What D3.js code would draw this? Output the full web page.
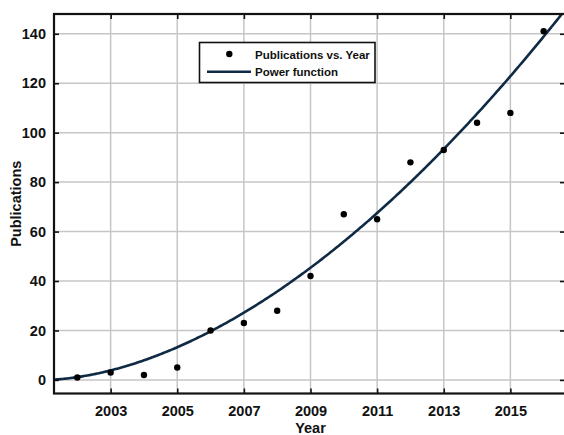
<!DOCTYPE html>
<html>
<head>
<meta charset="utf-8">
<script src="https://cdn.jsdelivr.net/npm/d3@7"></script>
<style>
  body { margin: 0; background: #fff; }
  svg { display: block; }
  text { font-family: "Liberation Sans", Arial, Helvetica, sans-serif; font-weight: bold; fill: #111; }
</style>
</head>
<body>
<svg id="chart" width="564" height="435"></svg>
<script>
// Yearly publication counts
const years = [2002, 2003, 2004, 2005, 2006, 2007, 2008, 2009, 2010, 2011, 2012, 2013, 2014, 2015, 2016];
const publications = [1, 3, 2, 5, 20, 23, 28, 42, 67, 65, 88, 93, 104, 108, 141];

// Axis ticks
const xTicks = [2003, 2005, 2007, 2009, 2011, 2013, 2015];
const yTicks = [0, 20, 40, 60, 80, 100, 120, 140];

// Legend entries
const legendLabels = ["Publications vs. Year", "Power function"];

// Power-law fit: y = a * (year - year0)^b
const fitA = 1.12;
const fitB = 1.78;
const fitYear0 = 2001;

const svg = d3.select("#chart");
const plot = { left: 54, right: 567, top: 14, bottom: 393.5 };

const x = d3.scaleLinear().domain([2001.3, 2016.7]).range([plot.left, plot.right]);
const y = d3.scaleLinear().domain([-5.5, 148]).range([plot.bottom, plot.top]);

// Grid
const grid = svg.append("g").attr("stroke", "#c6c6c6").attr("stroke-width", 1.5);
grid.selectAll("line.gx").data(xTicks).join("line")
  .attr("x1", d => x(d)).attr("x2", d => x(d))
  .attr("y1", plot.top).attr("y2", plot.bottom);
grid.selectAll("line.gy").data(yTicks).join("line")
  .attr("x1", plot.left).attr("x2", plot.right)
  .attr("y1", d => y(d)).attr("y2", d => y(d));

// Clip for marks
svg.append("clipPath").attr("id", "plotClip").append("rect")
  .attr("x", plot.left).attr("y", plot.top)
  .attr("width", plot.right - plot.left).attr("height", plot.bottom - plot.top);

// Fitted power curve
const curveYears = d3.range(2001.3, 2016.7, 0.05).concat([2016.7]);
const line = d3.line()
  .x(d => x(d))
  .y(d => y(fitA * Math.pow(d - fitYear0, fitB)));
svg.append("path")
  .datum(curveYears)
  .attr("clip-path", "url(#plotClip)")
  .attr("fill", "none")
  .attr("stroke", "#0e2a44")
  .attr("stroke-width", 2.6)
  .attr("d", line);

// Data points
svg.append("g").attr("clip-path", "url(#plotClip)")
  .selectAll("circle").data(years).join("circle")
  .attr("cx", d => x(d))
  .attr("cy", (d, i) => y(publications[i]))
  .attr("r", 3.2)
  .attr("fill", "#000");

// Axes (ticks pointing inward)
const tickLen = 5;
const axisStyle = g => {
  g.select(".domain").remove();
  g.selectAll(".tick line").attr("stroke", "#111").attr("stroke-width", 1.6);
  g.selectAll(".tick text").style("font-size", "14.5px").attr("fill", "#111");
};

svg.append("g")
  .attr("transform", `translate(0,${plot.bottom})`)
  .call(d3.axisBottom(x).tickValues(xTicks).tickFormat(d3.format("d")).tickSizeInner(-tickLen).tickSizeOuter(0).tickPadding(12))
  .call(axisStyle);

svg.append("g")
  .attr("transform", `translate(0,${plot.top})`)
  .call(d3.axisTop(x).tickValues(xTicks).tickFormat("").tickSizeInner(-tickLen).tickSizeOuter(0))
  .call(axisStyle);

svg.append("g")
  .attr("transform", `translate(${plot.left},0)`)
  .call(d3.axisLeft(y).tickValues(yTicks).tickFormat(d3.format("d")).tickSizeInner(-tickLen).tickSizeOuter(0).tickPadding(8))
  .call(axisStyle);

svg.append("g")
  .attr("transform", `translate(${plot.right - 2},0)`)
  .call(d3.axisRight(y).tickValues(yTicks).tickFormat("").tickSizeInner(-tickLen).tickSizeOuter(0))
  .call(axisStyle);

// Frame
svg.append("rect")
  .attr("x", plot.left).attr("y", plot.top)
  .attr("width", plot.right - plot.left).attr("height", plot.bottom - plot.top)
  .attr("fill", "none").attr("stroke", "#111").attr("stroke-width", 2.2);

// Axis titles
svg.append("text")
  .attr("x", x(2009)).attr("y", 433)
  .attr("text-anchor", "middle")
  .style("font-size", "14.5px")
  .text("Year");

svg.append("text")
  .attr("transform", `translate(21,${(plot.top + plot.bottom) / 2}) rotate(-90)`)
  .attr("text-anchor", "middle")
  .style("font-size", "14.5px")
  .text("Publications");

// Legend
const legend = svg.append("g");
legend.append("rect")
  .attr("x", 199.5).attr("y", 42.5).attr("width", 175.5).attr("height", 40)
  .attr("fill", "#fff").attr("stroke", "#111").attr("stroke-width", 1.6);
legend.append("circle").attr("cx", 229.3).attr("cy", 54).attr("r", 3.2).attr("fill", "#000");
legend.append("line")
  .attr("x1", 207).attr("x2", 251).attr("y1", 71.7).attr("y2", 71.7)
  .attr("stroke", "#0e2a44").attr("stroke-width", 2.6);
legend.selectAll("text").data(legendLabels).join("text")
  .attr("x", 255)
  .attr("y", (d, i) => i === 0 ? 58.5 : 76)
  .style("font-size", "11.5px")
  .text(d => d);
</script>
</body>
</html>
